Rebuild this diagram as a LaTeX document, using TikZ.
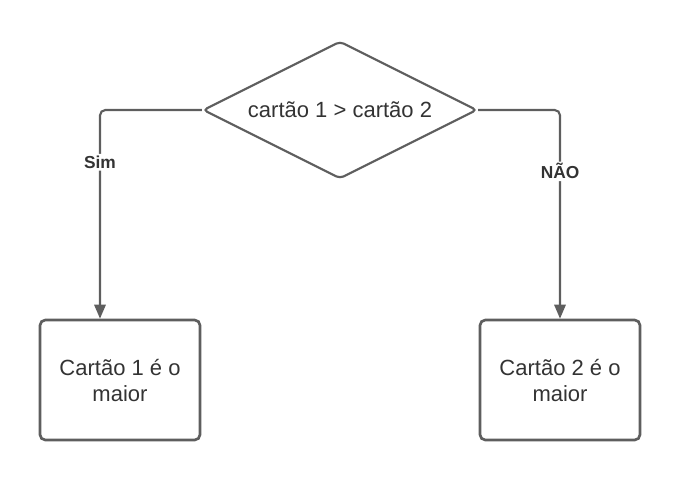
\documentclass[tikz,border=0pt]{standalone}
\usepackage{fontspec}
\setmainfont{Liberation Sans}
\usetikzlibrary{shapes.geometric}
\usetikzlibrary{arrows.meta}
\usetikzlibrary{positioning}
\definecolor{linegray}{RGB}{94,94,94}
\definecolor{textgray}{RGB}{51,51,51}
\tikzset{
  decision/.style={diamond, aspect=2, draw=linegray, line width=1.6pt, rounded corners=3pt,
    minimum width=205.5pt, minimum height=103pt, inner sep=0pt, text=textgray,
    font=\fontsize{16.5}{19.5}\selectfont},
  outcome/.style={rectangle, draw=linegray, line width=2pt, rounded corners=4pt,
    minimum width=120pt, minimum height=90pt, inner sep=0pt,
    align=center, text=textgray, font=\fontsize{16.5}{19.5}\selectfont},
  branch/.style={draw=linegray, line width=1.6pt, rounded corners=4pt,
    -{Triangle[length=10.5pt, width=8.5pt]}},
  branchlabel/.style={fill=white, inner sep=1.5pt, text=textgray,
    font=\fontsize{13}{15}\selectfont\bfseries}
}
\begin{document}
\begin{tikzpicture}[x=0.75pt,y=0.75pt,yscale=-1,xscale=1]
\useasboundingbox (0,0) rectangle (680,480);

% decision
\node [decision] (cmp) at (340,110) {cartão 1 > cartão 2};

% outcomes
\node [outcome] (first) at (120,380) {Cartão 1 é o\\maior};
\node [outcome] (second) at (560,380) {Cartão 2 é o\\maior};

% branches
\draw [branch] (cmp.west) -| ([xshift=-15pt]first.north)
  node [branchlabel, pos=0.625] (yes) {Sim};
\draw [branch] (cmp.east) -| (second.north)
  node [branchlabel, pos=0.647] (no) {NÃO};

\end{tikzpicture}
\end{document}
